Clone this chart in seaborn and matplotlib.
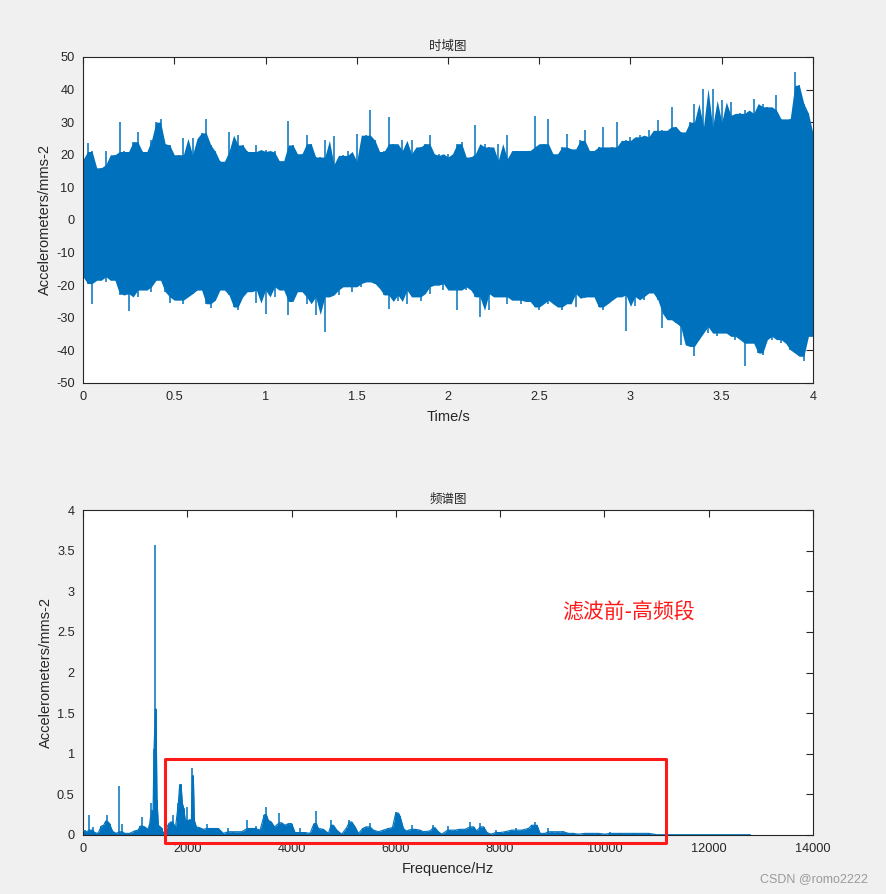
import numpy as np
import matplotlib
matplotlib.use("Agg")
import matplotlib.pyplot as plt
import seaborn as sns
from matplotlib.patches import Rectangle

# === TIME DOMAIN: envelope of the signal read every 0.025 s ===
upper_env = [
    18.5, 23.7, 21, 15, 16, 21, 17, 20, 30, 21, 13, 24, 27, 21, 20, 24.4, 30, 31, 23.4, 23,
    19, 20, 25, 20, 25, 20, 26.7, 31, 23, 21, 18, 15, 27, 21, 26, 23, 21, 16, 23, 21, 21.6,
    20.8, 21.3, 18.2, 16.2, 30.5, 23, 18.2, 20.3, 26, 23.4, 19.3, 19.3, 24.4, 16, 25.7, 17, 19.8, 21, 18, 26.3,
    16.7, 26, 33.7, 24.4, 17.7, 21, 31.6, 23.4, 21.3, 24.4, 20.3, 24.4, 19.8, 22.4, 23.4, 26, 19.8, 20.3, 19.3, 20.3,
    18.2, 23.4, 24, 16.2, 19.3, 29, 20.3, 23.4, 22.4, 18.2, 23.4, 18.2, 26, 18.8, 21.3, 21.3, 19.3, 21.3, 32, 22.4,
    23.4, 31, 20.3, 19.3, 22.4, 26.5, 21.8, 21.3, 24.4, 27.5, 19.3, 21.3, 22.4, 28.5, 20.3, 22.4, 30, 21.3, 24.4, 25.5,
    21.4, 26, 25.5, 27.5, 24.5, 30.8, 27.5, 26.5, 34.5, 28.6, 27, 25.5, 30, 35.7, 28.6, 40.3, 24.5, 40.3, 28.6, 36.7,
    30, 36.2, 32.1, 32.7, 33.7, 32.7, 37.2, 28.6, 35.7, 34.7, 33.7, 38.3, 31, 30, 31, 45.4, 41.3, 35.7, 32.7, 26.5,
]
lower_env = [
    -17.4, -19.5, -25.7, -18.5, -17.4, -19, -16.4, -18.5, -23, -22.6, -28, -20.5, -23.6, -21.5, -20.5, -22, -18.5, -17.4, -22, -25.5,
    -23.6, -24.6, -25.7, -23.6, -22.6, -19.5, -21.5, -25.7, -26.9, -24.6, -19.5, -21.5, -23, -26.7, -27.5, -23.6, -22, -19.5, -25.5, -21.5, -28.8,
    -20.5, -23.6, -17.4, -21.5, -29.3, -25, -19.5, -22, -25.7, -23.6, -29, -21.5, -34.4, -23.6, -21.5, -23, -19.5, -20.5, -22, -19.5,
    -20.5, -18.5, -19, -19.5, -21, -23, -27.2, -23, -25, -19.5, -25.7, -21.5, -23.6, -25, -20.5, -22.6, -20, -19.5, -21.5, -19.5,
    -21.5, -27.7, -19.5, -21.5, -20.5, -23.6, -29.8, -22.6, -27.7, -20.5, -23.6, -23.6, -25.7, -22.6, -24.6, -25.7, -23.6, -25, -26.7, -27.7,
    -24.6, -25.7, -23, -26.7, -27.7, -25.7, -22.6, -26.7, -22.6, -24, -23.6, -23, -26.7, -27.7, -25.7, -24.6, -23.6, -22.6, -34, -23,
    -26.5, -23.5, -24.5, -20.4, -22.4, -24.5, -33.2, -28.6, -30.6, -31.6, -38.3, -32.7, -38.8, -41.8, -36.7, -32.7, -34.7, -32.7, -35.7, -34.7,
    -32.7, -35.7, -36.7, -34.7, -44.9, -37.8, -35.7, -40.8, -41.3, -35.7, -36.7, -34.7, -37.8, -36.7, -39.8, -40.8, -41.8, -43.4, -35.7, -35.7,
]

# === SPECTRUM: frequency (Hz) and amplitude ===
freq_hz = [
    0, 32, 64, 121, 160, 185, 224, 288, 352, 396, 435, 467, 511, 543, 575, 639, 690, 716, 754, 799,
    895, 991, 1055, 1100, 1138, 1183, 1247, 1279, 1311, 1343, 1362, 1387, 1400, 1419, 1445, 1483, 1515, 1534, 1585, 1643,
    1681, 1726, 1771, 1828, 1854, 1880, 1905, 1931, 1963, 1995, 2020, 2046, 2078, 2097, 2116, 2135, 2174, 2238, 2301, 2378,
    2429, 2480, 2500, 2596, 2692, 2788, 2884, 3043, 3151, 3203, 3312, 3395, 3478, 3516, 3555, 3612, 3670, 3766, 3810, 3874,
    3938, 4002, 4066, 4162, 4258, 4354, 4430, 4475, 4514, 4610, 4706, 4757, 4802, 4866, 4962, 5058, 5108, 5154, 5218, 5282,
    5365, 5429, 5505, 5569, 5665, 5761, 5857, 5934, 5998, 6049, 6081, 6145, 6222, 6240, 6316, 6367, 6463, 6527, 6655, 6719,
    6751, 6815, 6879, 6994, 7038, 7134, 7230, 7326, 7428, 7492, 7550, 7620, 7684, 7748, 7825, 7915, 7998, 8094, 8222, 8305,
    8414, 8542, 8606, 8670, 8708, 8766, 8862, 8925, 8989, 9117, 9213, 9309, 9405, 9501, 9629, 9757, 9885, 10012, 10100, 10300,
    10550, 10850, 10950, 11000, 12800,
]
amplitude = [
    0.05, 0.06, 0.04, 0.24, 0.06, 0.10, 0.03, 0.02, 0.11, 0.12, 0.17, 0.25, 0.14, 0.08, 0.04, 0.02, 0.60, 0.04, 0.13, 0.02,
    0.02, 0.05, 0.06, 0.11, 0.22, 0.10, 0.07, 0.14, 0.39, 0.30, 1.06, 3.57, 1.55, 0.43, 0.12, 0.10, 0.08, 0.02, 0.06, 0.14,
    0.16, 0.24, 0.08, 0.39, 0.62, 0.63, 0.39, 0.33, 0.18, 0.35, 0.18, 0.20, 0.18, 0.83, 0.73, 0.18, 0.10, 0.09, 0.07, 0.13,
    0.08, 0.08, 0.08, 0.08, 0.02, 0.09, 0.04, 0.04, 0.185, 0.08, 0.11, 0.06, 0.25, 0.34, 0.18, 0.16, 0.10, 0.27, 0.15, 0.12,
    0.14, 0.14, 0.03, 0.08, 0.03, 0.02, 0.14, 0.30, 0.08, 0.07, 0.02, 0.18, 0.12, 0.06, 0.01, 0.09, 0.19, 0.16, 0.10, 0.02,
    0.08, 0.10, 0.15, 0.06, 0.04, 0.06, 0.08, 0.09, 0.28, 0.27, 0.23, 0.08, 0.04, 0.06, 0.12, 0.07, 0.06, 0.04, 0.05, 0.12,
    0.09, 0.04, 0.01, 0.11, 0.06, 0.06, 0.07, 0.07, 0.16, 0.10, 0.05, 0.15, 0.10, 0.03, 0.01, 0.06, 0.03, 0.04, 0.06, 0.08,
    0.06, 0.08, 0.12, 0.16, 0.12, 0.02, 0.02, 0.08, 0.04, 0.04, 0.05, 0.02, 0.03, 0.01, 0.02, 0.02, 0.02, 0.01, 0.04, 0.02,
    0.02, 0.02, 0.01, 0.004, 0.004,
]

time_ticks = [0, 0.5, 1, 1.5, 2, 2.5, 3, 3.5, 4]
accel_ticks = [-50, -40, -30, -20, -10, 0, 10, 20, 30, 40, 50]
freq_ticks = [0, 2000, 4000, 6000, 8000, 10000, 12000, 14000]
amp_ticks = [0, 0.5, 1, 1.5, 2, 2.5, 3, 3.5, 4]

BLUE = "#0072BD"
DARK = "#262626"
RED = "#ff1a1a"
CJK = ["Noto Sans CJK SC", "DejaVu Sans"]

sns.set_style("white")
plt.rcParams["font.family"] = ["Liberation Sans", "Noto Sans CJK SC"]


def fmt(v):
    return f"{v:g}"


def body_of(vals):
    # solid core under the spikes: median of each sample and its neighbours
    a = np.pad(np.asarray(vals, dtype=float), 1, mode="edge")
    return np.median(np.vstack([a[:-2], a[1:-1], a[2:]]), axis=0)


def style_axes(ax, xticks, yticks):
    ax.set_xticks(xticks)
    ax.set_xticklabels([fmt(v) for v in xticks])
    ax.set_yticks(yticks)
    ax.set_yticklabels([fmt(v) for v in yticks])
    ax.set_xlim(xticks[0], xticks[-1])
    ax.set_ylim(yticks[0], yticks[-1])
    ax.tick_params(direction="in", length=5, width=0.8, top=True, right=True,
                   colors=DARK, labelsize=9.2, pad=6)
    for sp in ax.spines.values():
        sp.set_visible(True)
        sp.set_color(DARK)
        sp.set_linewidth(0.8)
    ax.set_facecolor("white")


fig = plt.figure(figsize=(8.86, 8.94), dpi=100, facecolor="#f0f0f0")
ax1 = fig.add_axes([0.0937, 0.5716, 0.8239, 0.3647])
ax2 = fig.add_axes([0.0937, 0.066, 0.8239, 0.3635])

# time domain
time_s = np.linspace(0, 4, len(upper_env))
ax1.fill_between(time_s, body_of(lower_env), body_of(upper_env), color=BLUE, lw=0)
ax1.vlines(time_s, lower_env, upper_env, color=BLUE, lw=1.1)
sns.lineplot(x=time_s, y=np.zeros(len(time_s)), ax=ax1, color=BLUE, lw=0.8, estimator=None)
style_axes(ax1, time_ticks, accel_ticks)
ax1.set_title("时域图", family=CJK, fontsize=9, color=DARK, pad=5)
ax1.set_xlabel("Time/s", fontsize=10.5, color=DARK, labelpad=5)
ax1.set_ylabel("Accelerometers/mms-2", fontsize=10.5, color=DARK, labelpad=3)

# spectrum
spec_body = np.minimum(body_of(amplitude), amplitude)
ax2.fill_between(freq_hz, 0, spec_body, color=BLUE, lw=0)
ax2.vlines(freq_hz, 0, amplitude, color=BLUE, lw=1.1)
sns.lineplot(x=freq_hz, y=spec_body, ax=ax2, color=BLUE, lw=0.8, estimator=None, zorder=3)
style_axes(ax2, freq_ticks, amp_ticks)
ax2.set_title("频谱图", family=CJK, fontsize=9, color=DARK, pad=5)
ax2.set_xlabel("Frequence/Hz", fontsize=10.5, color=DARK, labelpad=5)
ax2.set_ylabel("Accelerometers/mms-2", fontsize=10.5, color=DARK, labelpad=3)

# annotation box + label
ax2.add_patch(Rectangle((1573, -0.1), 11181 - 1573, 1.03, fill=False, ec=RED,
                        lw=2.2, clip_on=False, joinstyle="round", zorder=5))
ax2.text(10452, 2.74, "滤波前-高频段", ha="center", va="center", fontsize=15,
         color=RED, family=CJK)

fig.text(0.919, 0.0168, "CSDN @romo2222", ha="center", va="center",
         fontsize=9, color="#9a9a9a")

fig.savefig("out.png", dpi=100, facecolor=fig.get_facecolor())
